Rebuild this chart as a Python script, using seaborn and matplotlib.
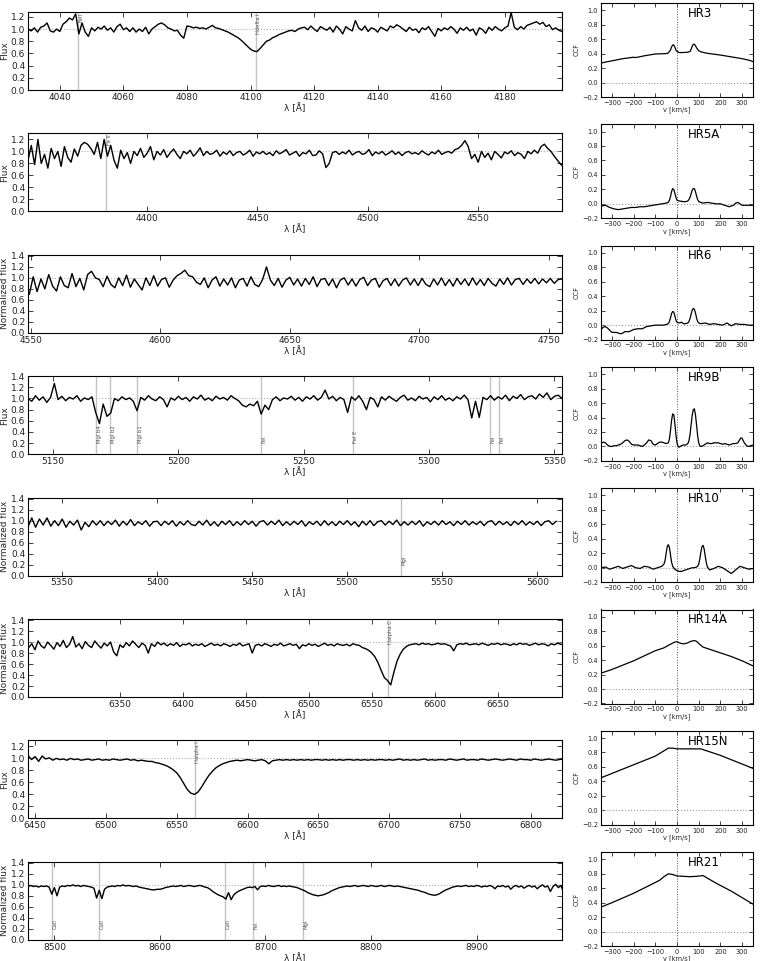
import numpy as np
import pandas as pd
import matplotlib
matplotlib.use("Agg")
import matplotlib.pyplot as plt
import seaborn as sns

# ---------------- spectra (start wavelength, step, flux values) ----------------
hr3_start, hr3_step = 4030.0, 1.0
hr3_flux = [1.00, 0.97, 1.02, 0.95, 1.03, 1.05, 1.10, 0.97, 0.95, 1.00,
            0.96, 1.08, 1.12, 1.18, 1.15, 1.25, 0.92, 1.10, 0.95, 0.88,
            1.02, 0.97, 1.03, 1.00, 1.05, 0.98, 1.02, 0.95, 1.04, 1.08,
            0.99, 1.02, 0.96, 1.02, 0.95, 1.00, 0.96, 1.03, 0.92, 1.00,
            1.04, 1.08, 1.10, 1.07, 1.02, 1.00, 0.97, 0.98, 0.90, 0.85,
            1.05, 1.04, 1.02, 1.03, 1.01, 1.02, 1.00, 1.03, 1.06, 1.02,
            1.01, 0.99, 0.97, 0.95, 0.92, 0.89, 0.86, 0.82, 0.77, 0.72,
            0.67, 0.64, 0.63, 0.68, 0.74, 0.80, 0.82, 0.86, 0.88, 0.91,
            0.93, 0.95, 0.97, 0.98, 0.96, 1.00, 1.02, 1.03, 0.99, 1.05,
            1.00, 0.96, 1.04, 1.01, 0.98, 1.03, 0.95, 1.05, 1.00, 0.92,
            1.04, 1.00, 0.97, 1.14, 1.02, 0.98, 1.05, 0.96, 1.02, 1.00,
            0.95, 1.03, 1.00, 0.97, 1.05, 1.02, 1.07, 1.04, 1.00, 0.96,
            1.03, 0.98, 1.00, 0.94, 1.02, 0.99, 1.04, 0.96, 0.88, 1.01,
            0.97, 1.02, 0.99, 1.04, 1.00, 0.93, 1.02, 0.98, 1.03, 0.97,
            1.00, 0.90, 1.02, 0.99, 0.93, 1.03, 0.98, 1.04, 1.00, 0.97,
            1.02, 1.05, 1.27, 1.03, 0.99, 1.04, 1.00, 1.06, 1.08, 1.10,
            1.12, 1.08, 1.11, 1.04, 1.07, 0.99, 1.02, 0.98, 0.96]

hr5a_start, hr5a_step = 4346.0, 1.5
hr5a_flux = [0.85, 1.10, 0.78, 1.20, 0.80, 0.95, 0.72, 1.05, 0.88, 1.00,
             0.75, 1.08, 0.90, 0.82, 1.04, 0.92, 1.10, 1.15, 1.12, 1.05,
             0.95, 1.15, 0.88, 1.20, 0.92, 1.10, 0.85,
             0.72, 1.02, 0.88, 0.98, 0.80, 1.00, 0.93, 1.05, 0.90, 0.97,
             1.08, 0.86, 1.00, 0.94, 1.03, 0.90, 0.98, 1.04, 0.95, 0.88,
             1.00, 0.96, 1.02, 0.92, 0.98, 1.06, 0.93, 1.00, 0.95, 0.97,
             1.02, 0.92, 0.99, 0.95, 1.01, 0.93, 0.98, 1.00, 0.94, 0.97,
             1.02, 0.92, 0.99, 0.96, 1.00, 0.95, 0.98, 0.93, 1.01, 0.96,
             0.99, 1.03, 0.94, 0.97, 1.00, 0.92, 0.98, 0.96, 1.02, 0.93,
             0.94, 1.01, 0.96, 0.73,
             0.80, 0.98, 1.00, 0.95, 0.99, 0.96, 1.02, 0.94, 0.98, 1.00,
             0.95, 0.97, 1.03, 0.93, 0.99, 0.96, 1.00, 0.94, 0.97, 1.01,
             0.95, 0.99, 0.93, 0.98, 1.00, 0.96, 0.98, 0.95, 1.01, 0.97,
             0.94, 0.99, 0.96, 1.02, 0.95, 0.98, 1.00, 0.97, 1.03,
             1.05, 1.10, 1.18, 1.08, 0.88, 0.95, 0.82, 1.00, 0.90, 0.97,
             0.86, 1.00, 0.95, 0.89, 0.99, 0.96, 1.01, 0.93, 0.98, 0.95,
             0.88, 1.00, 0.96, 1.02, 0.97, 1.08, 1.12, 1.05, 1.00, 0.92,
             0.85, 0.78, 0.74]

hr6_start, hr6_step = 4548.0, 1.5
hr6_flux = [0.88, 0.70, 1.02, 0.75, 0.98, 0.80, 1.06, 0.85, 0.76, 1.02,
            0.86, 0.82, 1.08, 0.84, 0.99, 0.78, 1.06, 1.12, 1.00, 0.97,
            0.84, 1.03, 0.88, 0.82, 1.00, 0.86, 1.05, 0.83, 0.98, 0.88,
            0.78, 1.00, 0.86, 1.04, 0.85, 0.97, 1.00, 0.83, 0.96, 1.04,
            1.08, 1.14, 1.04, 1.02, 0.92, 0.88, 1.00, 0.82, 0.96, 1.02,
            0.85, 0.98, 0.87, 1.00, 0.82, 0.96, 0.99, 0.85, 1.02, 0.88,
            0.84, 0.97, 1.20, 0.96, 0.86, 0.99, 0.83, 0.96, 1.01, 0.87,
            0.98, 0.85, 0.99, 0.88, 1.02, 0.84, 0.97, 0.99, 0.86, 0.98,
            0.82, 0.96, 1.00, 0.87, 0.98, 0.85, 0.97, 1.01, 0.86, 0.96,
            0.99, 0.83, 0.95, 0.99, 0.86, 0.98, 0.85, 0.96, 1.00, 0.87,
            0.98, 0.86, 0.99, 0.88, 0.84, 0.98, 0.87, 1.00, 0.86, 0.97,
            0.85, 0.99, 0.88, 0.98, 0.86, 1.00, 0.87, 0.97, 0.86, 0.99,
            0.90, 0.85, 0.98, 0.88, 1.00, 0.87, 0.97, 0.99, 0.88, 0.98,
            0.90, 0.99, 0.89, 0.98, 0.91, 0.99, 0.90, 0.97, 0.98]

hr9b_start, hr9b_step = 5140.0, 1.5
hr9b_flux = [1.00, 0.95, 1.05, 0.97, 1.03, 0.93, 1.02, 1.27,
             0.98, 1.04, 0.96, 1.02, 0.99, 1.05, 0.95, 1.01, 0.98, 1.03,
             0.75, 0.55, 0.90, 0.68, 0.74,
             1.00, 0.96, 1.03, 0.98, 1.01, 0.95, 0.78,
             1.02, 0.97, 1.05, 0.99, 0.96, 1.03, 0.98, 0.85,
             1.01, 0.97, 1.04, 0.98, 1.02, 0.95, 1.03, 0.99, 1.06, 0.97,
             1.01, 0.96, 1.04, 0.99, 1.02, 0.97, 1.05, 1.00, 0.96,
             0.88, 0.85, 0.90, 0.87, 0.95, 0.72, 0.88, 0.80,
             0.98, 1.03, 0.96, 1.01, 0.99, 1.04, 0.97, 1.02, 0.95, 1.03,
             0.99, 1.05, 0.97, 1.02, 1.15,
             0.99, 1.04, 0.96, 1.02, 0.98, 0.75, 1.03, 0.97, 1.05, 0.95, 0.80,
             1.02, 0.98, 0.85, 1.03, 0.97, 1.04, 0.99, 0.95, 1.02, 1.06,
             0.97, 1.01, 0.96, 1.04, 0.99, 1.02, 0.94, 1.03, 0.98, 1.05,
             0.97, 1.01, 0.96, 1.03, 0.99, 1.06, 0.98,
             0.65, 0.95, 0.66,
             1.02, 0.98, 1.05, 0.97, 1.03, 0.99, 1.06, 0.96, 1.04, 1.00,
             1.07, 0.98, 1.03, 1.05, 0.99, 1.08, 1.02, 1.10, 0.98, 1.04,
             1.06, 1.00]

hr10_start, hr10_step = 5330.0, 2.0
hr10_flux = [1.02, 0.89, 1.05, 0.88, 1.03, 0.92, 1.05, 0.90, 1.00, 0.91,
             1.03, 0.88, 0.99, 0.92, 1.01, 0.83, 0.97, 0.89, 1.00, 0.92,
             1.00, 0.91, 0.99, 0.93, 1.01, 0.90, 0.99, 0.92, 1.02, 0.91,
             0.98, 0.93, 1.00, 0.90, 0.98, 0.99, 0.91, 0.99, 0.93, 1.00,
             0.90, 0.98, 0.92, 1.00, 0.93, 0.91, 0.99, 0.92, 1.01, 0.91,
             0.98, 0.90, 0.99, 0.93, 1.00, 0.91, 0.98, 0.92, 1.00, 0.93,
             0.99, 0.90, 0.98, 1.00, 0.92, 0.99, 0.93, 1.01, 0.91, 0.98,
             0.92, 0.99, 0.93, 1.00, 0.90, 0.98, 0.93, 0.99, 0.91, 1.00,
             0.92, 0.98, 0.91, 0.99, 0.93, 1.00, 0.92, 0.98, 0.89, 0.99,
             0.92, 1.00, 0.91, 0.98, 1.00, 0.92, 0.99, 0.93, 1.01, 0.91,
             0.98, 0.92, 0.99, 0.93, 1.00, 0.90, 0.98, 0.93, 0.99, 0.92,
             1.00, 0.93, 0.98, 0.91, 0.99, 0.93, 1.00, 0.92, 0.98, 0.93,
             0.99, 0.91, 0.98, 1.00, 0.92, 0.99, 0.93, 0.98, 0.91, 0.99,
             0.93, 1.00, 0.92, 0.98, 0.93, 0.99, 0.91, 0.98, 1.00, 0.93, 0.99]

hr14a_start, hr14a_step = 6270.0, 2.5
hr14a_flux = [0.98, 0.88, 1.05, 0.90, 0.97, 0.86, 1.02, 0.93, 0.89, 1.00,
              0.94, 0.87, 0.99, 0.92, 1.03, 0.90, 0.96, 1.10, 0.91, 0.97,
              0.88, 1.01, 0.94, 0.90, 1.02, 0.95, 0.89, 0.98, 0.93, 1.00,
              0.82, 0.75, 0.95, 0.90, 0.99, 0.93, 1.02, 0.96, 0.90, 0.98,
              0.94, 0.80, 0.97, 0.92, 1.00,
              0.95, 0.98, 0.93, 0.97, 0.94, 0.99, 0.92, 0.96, 0.95, 0.98,
              0.93, 0.96, 0.94, 0.97, 0.92, 0.95, 0.98, 0.94, 0.96, 0.93,
              0.97, 0.95, 0.92, 0.96, 0.94, 0.98, 0.93, 0.95, 0.97, 0.80,
              0.94, 0.96, 0.93, 0.97, 0.95, 0.92, 0.96, 0.94, 0.98, 0.93,
              0.95, 0.97, 0.94, 0.96, 0.88, 0.95, 0.93, 0.97, 0.94, 0.96,
              0.92, 0.95, 0.98, 0.94, 0.96, 0.93, 0.97, 0.95, 0.94, 0.96,
              0.93, 0.97, 0.95, 0.94,
              0.90, 0.88, 0.85, 0.80, 0.73, 0.62, 0.48, 0.35, 0.30, 0.22,
              0.45, 0.65, 0.78, 0.87, 0.92, 0.95,
              0.96, 0.97, 0.95, 0.98, 0.96, 0.97, 0.95, 0.96, 0.98, 0.96,
              0.97, 0.95, 0.93, 0.84, 0.95, 0.97, 0.96, 0.98, 0.95, 0.96,
              0.97, 0.95, 0.98, 0.96, 0.94, 0.97, 0.96, 0.98, 0.95, 0.97,
              0.96, 0.94, 0.97, 0.95, 0.98, 0.96, 0.97, 0.94, 0.96, 0.98,
              0.95, 0.97, 0.96, 0.93, 0.97, 0.95, 0.98, 0.96, 0.95]

hr15n_start, hr15n_step = 6440.0, 2.5
hr15n_flux = [1.02, 0.96, 1.05, 0.98, 1.03, 0.95, 1.04, 0.99, 1.01, 0.97,
              1.00, 0.98, 0.99, 0.97, 1.00, 0.98, 0.99, 0.97, 0.98, 0.99,
              0.97, 0.98, 0.99, 0.97, 0.98, 0.97, 0.99, 0.98, 0.97, 0.98,
              0.99, 0.97, 0.98, 0.96, 0.97, 0.96, 0.95, 0.95, 0.93, 0.92,
              0.90, 0.88, 0.85, 0.81, 0.76, 0.68, 0.58, 0.48, 0.42, 0.40,
              0.44, 0.52, 0.62, 0.71, 0.78, 0.84, 0.88, 0.91, 0.93, 0.95,
              0.96, 0.97, 0.96,
              0.97, 0.98, 0.97, 0.96, 0.97, 0.98, 0.96, 0.91, 0.96, 0.97,
              0.98, 0.97, 0.98, 0.97, 0.98, 0.97, 0.98, 0.97, 0.98, 0.97,
              0.98, 0.98, 0.97, 0.98, 0.97, 0.98, 0.97, 0.98, 0.97, 0.98,
              0.98, 0.97, 0.98, 0.97, 0.98, 0.97, 0.98, 0.97, 0.98, 0.98,
              0.97, 0.98, 0.97, 0.98, 0.99, 0.97, 0.98, 0.97, 0.98, 0.97,
              0.98, 0.99, 0.97, 0.98, 0.97, 0.98, 0.98, 0.97, 0.99, 0.98,
              0.97, 0.98, 0.99, 0.97, 0.98, 0.98, 0.97, 0.99, 0.98, 0.97,
              0.98, 0.99, 0.98, 0.97, 0.98, 0.99, 0.98, 0.97, 0.99, 0.98,
              0.98, 0.97, 0.99, 0.98, 0.97, 0.98, 0.99, 0.98, 0.97, 0.98,
              0.99, 0.98]

hr21_start, hr21_step = 8470.0, 2.5
hr21_flux = [0.96, 0.98, 0.97, 0.99, 0.97, 0.98, 0.96, 0.98, 0.97, 0.98, 0.96,
             0.83, 0.95, 0.80, 0.96,
             0.98, 0.97, 0.99, 0.98, 1.00, 0.98, 0.99, 0.97, 0.99, 0.98, 0.97, 0.96, 0.94,
             0.76, 0.90, 0.75, 0.92,
             0.96, 0.97, 0.98, 0.97, 0.99, 0.98, 1.00, 0.98, 0.99, 0.98, 0.97, 0.98, 0.96, 0.95,
             0.94, 0.93, 0.92, 0.91, 0.91, 0.92, 0.92, 0.93, 0.95, 0.96, 0.97, 0.98,
             0.97, 0.98, 0.99, 0.97, 0.98, 0.99, 0.98, 0.97, 0.98, 0.99, 0.98, 0.96, 0.95, 0.92, 0.88,
             0.85, 0.82, 0.80, 0.78, 0.74, 0.86, 0.73, 0.82, 0.86, 0.89, 0.91, 0.93, 0.95,
             0.96, 0.95, 0.97, 0.91, 0.97, 0.98, 0.97, 0.99, 0.98, 0.97, 0.98, 0.99, 0.97, 0.98, 0.97,
             0.98, 0.97, 0.96, 0.95, 0.93, 0.91, 0.89, 0.86, 0.84, 0.82, 0.81, 0.80,
             0.81, 0.82, 0.84, 0.86, 0.89, 0.91, 0.93, 0.95, 0.96, 0.97, 0.98, 0.97,
             0.98, 0.99, 0.97, 0.98, 0.99, 0.98, 0.97, 0.99, 0.98, 0.97, 0.98, 0.99,
             0.97, 0.98, 0.99, 0.98, 0.97, 0.98, 0.97, 0.96, 0.95,
             0.94, 0.93, 0.92, 0.91, 0.90, 0.88, 0.87, 0.85, 0.83, 0.82, 0.81, 0.82,
             0.84, 0.87, 0.90, 0.92, 0.94, 0.96, 0.97, 0.98, 0.97, 0.98, 0.99,
             0.97, 0.98, 0.97, 0.99, 0.98, 0.96, 0.98, 0.97, 0.99, 0.97, 0.93, 0.98,
             0.97, 0.99, 0.96, 0.98, 0.92, 0.97, 0.99, 0.96, 0.98, 0.94, 0.97, 0.99,
             0.96, 0.98, 0.93, 0.97, 1.00, 0.96, 0.98, 0.88, 0.97, 1.01, 0.95, 0.99,
             0.86, 0.90]

# ---------------- axis ranges and ticks ----------------
spec_xlim = [(4030, 4198), (4346, 4588), (4549, 4755), (5140, 5353),
             (5332, 5613), (6277, 6701), (6445, 6822), (8475, 8981)]
spec_ytop = [1.28, 1.30, 1.42, 1.40, 1.42, 1.42, 1.30, 1.42]
spec_xticks = [[4040, 4060, 4080, 4100, 4120, 4140, 4160, 4180],
               [4400, 4450, 4500, 4550],
               [4550, 4600, 4650, 4700, 4750],
               [5150, 5200, 5250, 5300, 5350],
               [5350, 5400, 5450, 5500, 5550, 5600],
               [6350, 6400, 6450, 6500, 6550, 6600, 6650],
               [6450, 6500, 6550, 6600, 6650, 6700, 6750, 6800],
               [8500, 8600, 8700, 8800, 8900]]
spec_ylabel = ["Flux", "Flux", "Normalized flux", "Flux",
               "Normalized flux", "Normalized flux", "Flux", "Normalized flux"]

# ---------------- identified lines ----------------
lines_hr3 = [(4045.8, "FeII"), (4101.7, "Hdelta I")]
lines_hr5a = [(4381.5, "Fe II")]
lines_hr6 = []
lines_hr9b = [(5167.3, "MgI b4"), (5172.7, "MgI b2"), (5183.6, "MgI b1"),
              (5232.9, "FeI"), (5269.5, "FeI E"), (5324.2, "FeI"), (5328.0, "FeI")]
lines_hr10 = [(5528.4, "MgI")]
lines_hr14a = [(6562.8, "Halpha C")]
lines_hr15n = [(6562.8, "Halpha I")]
lines_hr21 = [(8498.0, "CaII"), (8542.1, "CaII"), (8662.1, "CaII"),
              (8688.6, "FeI"), (8736.0, "MgI")]
line_label_pos = ["top", "top", "top", "bottom", "bottom", "top", "top", "bottom"]

# ---------------- CCFs (velocity, value) ----------------
ccf_names = ["HR3", "HR5A", "HR6", "HR9B", "HR10", "HR14A", "HR15N", "HR21"]

ccf_hr3_v = [-350, -300, -250, -200, -190, -150, -120, -100, -50, -40, -30, -25, -20, -15, -10, -5, 0,
             10, 30, 50, 60, 65, 70, 75, 80, 85, 90, 100, 110, 130, 150, 200, 250, 300, 330, 350]
ccf_hr3_c = [0.27, 0.30, 0.33, 0.35, 0.345, 0.37, 0.385, 0.395, 0.40, 0.41, 0.45, 0.49, 0.52, 0.52, 0.49, 0.45, 0.43,
             0.415, 0.415, 0.42, 0.43, 0.46, 0.50, 0.53, 0.53, 0.51, 0.48, 0.44, 0.425, 0.41, 0.40, 0.38, 0.355, 0.33, 0.31, 0.29]

ccf_hr5a_v = [-350, -330, -310, -290, -270, -250, -230, -210, -190, -170, -150, -130, -110, -90, -70, -50,
              -40, -35, -30, -25, -20, -15, -10, -5, 0, 10, 20, 30, 40, 50, 55, 60, 65, 70, 75, 80, 85, 90, 95, 100, 110,
              120, 140, 160, 180, 200, 220, 240, 260, 270, 280, 290, 300, 320, 340, 350]
ccf_hr5a_c = [-0.03, -0.02, -0.05, -0.07, -0.08, -0.07, -0.06, -0.05, -0.05, -0.04, -0.04, -0.03, -0.02, -0.01, 0.00, 0.01,
              0.02, 0.05, 0.10, 0.17, 0.21, 0.20, 0.15, 0.09, 0.05, 0.04, 0.035, 0.03, 0.03, 0.04, 0.06, 0.09, 0.14, 0.19, 0.21, 0.21, 0.17, 0.11, 0.06, 0.03, 0.02,
              0.01, 0.02, 0.01, 0.00, 0.00, -0.02, -0.04, -0.02, 0.01, 0.02, 0.00, -0.02, -0.02, -0.02, -0.02]

ccf_hr6_v = [-350, -340, -330, -320, -310, -300, -280, -260, -250, -240, -220, -200, -180, -160, -140, -120, -100,
             -80, -60, -50, -40, -35, -30, -25, -20, -15, -10, -5, 0, 10, 20, 30, 40, 50, 55, 60, 65, 70, 75, 80, 85, 90, 95, 100,
             110, 130, 150, 170, 190, 210, 230, 250, 270, 290, 310, 330, 350]
ccf_hr6_c = [-0.06, -0.03, -0.02, -0.04, -0.07, -0.10, -0.10, -0.12, -0.11, -0.09, -0.09, -0.06, -0.05, -0.05, -0.02, -0.01, 0.00,
             0.00, 0.00, 0.01, 0.02, 0.05, 0.10, 0.16, 0.19, 0.18, 0.13, 0.07, 0.04, 0.03, 0.04, 0.02, 0.02, 0.03, 0.05, 0.09, 0.15, 0.21, 0.23, 0.22, 0.17, 0.10, 0.05, 0.03,
             0.02, 0.03, 0.01, 0.02, 0.01, 0.00, 0.03, -0.01, 0.02, 0.01, 0.01, 0.00, 0.00]

ccf_hr9b_v = [-350, -340, -330, -320, -310, -300, -290, -280, -270, -260, -250, -240, -230, -220, -210, -200,
              -190, -180, -170, -160, -150, -140, -130, -120, -110, -100, -90, -80, -70, -60, -50, -40,
              -35, -30, -25, -20, -15, -10, -5, 0, 5, 10, 20, 30, 40, 50, 55, 60, 65, 70, 75, 80, 85, 90, 95,
              100, 105, 110, 120, 130, 140, 150, 160, 170, 180, 190, 200, 210, 220, 230, 240, 250, 260, 270,
              280, 290, 295, 300, 310, 320, 330, 340, 350]
ccf_hr9b_c = [0.04, 0.06, 0.05, 0.02, 0.00, 0.00, 0.01, 0.01, 0.02, 0.03, 0.05, 0.08, 0.09, 0.07, 0.03, 0.02,
              0.02, 0.02, 0.01, 0.00, 0.02, 0.05, 0.09, 0.08, 0.03, 0.02, 0.04, 0.06, 0.06, 0.05, 0.04, 0.05,
              0.10, 0.22, 0.36, 0.45, 0.44, 0.32, 0.16, 0.05, 0.00, -0.01, 0.01, 0.02, 0.02, 0.04, 0.08, 0.16, 0.30, 0.43, 0.51, 0.52, 0.44, 0.30, 0.15,
              0.05, 0.01, 0.00, 0.01, 0.03, 0.05, 0.04, 0.04, 0.05, 0.05, 0.05, 0.04, 0.03, 0.04, 0.03, 0.02, 0.03, 0.04, 0.04,
              0.05, 0.10, 0.12, 0.11, 0.05, 0.01, 0.00, 0.01, 0.02]

ccf_hr10_v = [-350, -330, -310, -290, -270, -250, -230, -210, -190, -170, -150, -130, -110, -90, -70, -60,
              -55, -50, -45, -40, -35, -30, -25, -20, -10, 0, 10, 20, 30, 40, 50, 60, 70, 80, 90, 95, 100, 105, 110,
              115, 120, 125, 130, 135, 140, 150, 170, 190, 210, 230, 250, 270, 290, 310, 330, 350]
ccf_hr10_c = [0.00, 0.01, -0.02, 0.00, 0.02, -0.01, 0.01, 0.03, 0.00, -0.01, 0.02, 0.01, -0.02, 0.00, 0.02, 0.05,
              0.10, 0.20, 0.29, 0.32, 0.28, 0.18, 0.08, 0.02, -0.02, -0.04, -0.05, -0.05, -0.04, -0.03, -0.02, -0.01, 0.00, 0.00, 0.01, 0.02, 0.05, 0.12, 0.22,
              0.29, 0.31, 0.26, 0.16, 0.07, 0.01, -0.03, -0.01, 0.02, 0.00, -0.04, -0.08, -0.03, 0.02, 0.00, -0.02, -0.01]

ccf_hr14a_v = [-350, -300, -250, -200, -150, -100, -60, -30, -10, 0, 10, 20, 30, 40, 50, 60, 70, 80, 90, 100, 120, 150,
               200, 250, 300, 350]
ccf_hr14a_c = [0.22, 0.27, 0.33, 0.39, 0.46, 0.53, 0.57, 0.62, 0.65, 0.655, 0.64, 0.63, 0.625, 0.63, 0.64, 0.655, 0.665, 0.67, 0.66, 0.63, 0.58, 0.55,
               0.50, 0.45, 0.39, 0.32]

ccf_hr15n_v = [-350, -300, -200, -100, -40, -20, 0, 50, 100, 110, 150, 200, 250, 300, 350]
ccf_hr15n_c = [0.45, 0.51, 0.63, 0.75, 0.86, 0.86, 0.85, 0.85, 0.85, 0.85, 0.81, 0.76, 0.70, 0.64, 0.58]

ccf_hr21_v = [-350, -300, -200, -100, -80, -60, -40, -20, 0, 30, 60, 90, 120, 140, 180, 250, 300, 350]
ccf_hr21_c = [0.34, 0.40, 0.53, 0.68, 0.71, 0.76, 0.80, 0.79, 0.77, 0.765, 0.76, 0.765, 0.775, 0.74, 0.67, 0.56, 0.47, 0.38]

# ---------------- assemble ----------------
spectra = [(hr3_start, hr3_step, hr3_flux), (hr5a_start, hr5a_step, hr5a_flux),
           (hr6_start, hr6_step, hr6_flux), (hr9b_start, hr9b_step, hr9b_flux),
           (hr10_start, hr10_step, hr10_flux), (hr14a_start, hr14a_step, hr14a_flux),
           (hr15n_start, hr15n_step, hr15n_flux), (hr21_start, hr21_step, hr21_flux)]
line_ids = [lines_hr3, lines_hr5a, lines_hr6, lines_hr9b, lines_hr10,
            lines_hr14a, lines_hr15n, lines_hr21]
ccfs = [(ccf_hr3_v, ccf_hr3_c), (ccf_hr5a_v, ccf_hr5a_c), (ccf_hr6_v, ccf_hr6_c),
        (ccf_hr9b_v, ccf_hr9b_c), (ccf_hr10_v, ccf_hr10_c), (ccf_hr14a_v, ccf_hr14a_c),
        (ccf_hr15n_v, ccf_hr15n_c), (ccf_hr21_v, ccf_hr21_c)]

sns.set_style("ticks")
plt.rcParams.update({
    "font.family": ["DejaVu Sans"],
    "xtick.direction": "in", "ytick.direction": "in",
    "xtick.top": True, "ytick.right": True,
    "axes.linewidth": 0.8, "axes.edgecolor": "black",
    "xtick.major.size": 3.5, "ytick.major.size": 3.5,
    "xtick.major.width": 0.6, "ytick.major.width": 0.6,
    "xtick.color": "#222222", "ytick.color": "#222222",
})

W, H = 763, 961
fig = plt.figure(figsize=(W / 100, H / 100), dpi=100)


def px_axes(left, top, width, height):
    return fig.add_axes([left / W, 1 - (top + height) / H, width / W, height / H])


spec_left, spec_width, spec_height = 28, 534, 78
spec_top0, spec_pitch = 12, 121.4
ccf_left, ccf_width, ccf_height = 601, 152, 94
ccf_top0, ccf_pitch = 3, 121.3

for i in range(8):
    ax = px_axes(spec_left, spec_top0 + spec_pitch * i, spec_width, spec_height)
    start, step, flux = spectra[i]
    wl = start + step * np.arange(len(flux))
    df = pd.DataFrame({"wl": wl, "flux": flux})
    ax.axhline(1.0, color="#b0b0b0", lw=0.8, ls=":", zorder=1)
    x0, x1 = spec_xlim[i]
    ytop = spec_ytop[i]
    for lam, name in line_ids[i]:
        ax.axvline(lam, color="#c4c4c4", lw=1.0, zorder=1)
        if line_label_pos[i] == "top":
            ax.text(lam + (x1 - x0) * 0.001, ytop - 0.02, name, rotation=90, ha="left", va="top",
                    fontsize=3.8, color="#555555", zorder=3)
        else:
            ax.text(lam + (x1 - x0) * 0.001, 0.2, name, rotation=90, ha="left", va="bottom",
                    fontsize=3.8, color="#555555", zorder=3)
    sns.lineplot(data=df, x="wl", y="flux", ax=ax, color="black", lw=1.0,
                 estimator=None, sort=False, zorder=2)
    ax.set_xlim(x0, x1)
    ax.set_ylim(0, ytop)
    ax.set_xticks(spec_xticks[i])
    ax.set_yticks(np.arange(0, ytop + 0.001, 0.2))
    ax.set_yticklabels([f"{t:.1f}" for t in np.arange(0, ytop + 0.001, 0.2)])
    ax.tick_params(labelsize=6.5, pad=2)
    ax.set_xlabel("λ [Å]", fontsize=6.5, labelpad=1)
    ax.set_ylabel(spec_ylabel[i], fontsize=6.5, labelpad=1)

    cx = px_axes(ccf_left, ccf_top0 + ccf_pitch * i, ccf_width, ccf_height)
    v, c = ccfs[i]
    cdf = pd.DataFrame({"v": v, "ccf": c})
    cx.axhline(0.0, color="#999999", lw=0.8, ls=":", zorder=1)
    cx.axvline(0.0, color="#555555", lw=0.7, ls=":", zorder=1)
    sns.lineplot(data=cdf, x="v", y="ccf", ax=cx, color="black", lw=0.9,
                 estimator=None, sort=False, zorder=2)
    cx.set_xlim(-350, 350)
    cx.set_ylim(-0.2, 1.1)
    cx.set_xticks([-300, -200, -100, 0, 100, 200, 300])
    cx.set_yticks([-0.2, 0.0, 0.2, 0.4, 0.6, 0.8, 1.0])
    cx.set_yticklabels(["−0.2", "0.0", "0.2", "0.4", "0.6", "0.8", "1.0"])
    cx.set_xticklabels(["−300", "−200", "−100", "0", "100", "200", "300"])
    cx.tick_params(labelsize=4.8, pad=2, length=3)
    cx.set_xlabel("v [km/s]", fontsize=4.8, labelpad=0.5)
    cx.set_ylabel("CCF", fontsize=4.8, labelpad=2)
    cx.text(0.57, 0.89, ccf_names[i], transform=cx.transAxes, fontsize=8.5,
            ha="left", va="center", color="black")

fig.savefig("out.png", dpi=100)
